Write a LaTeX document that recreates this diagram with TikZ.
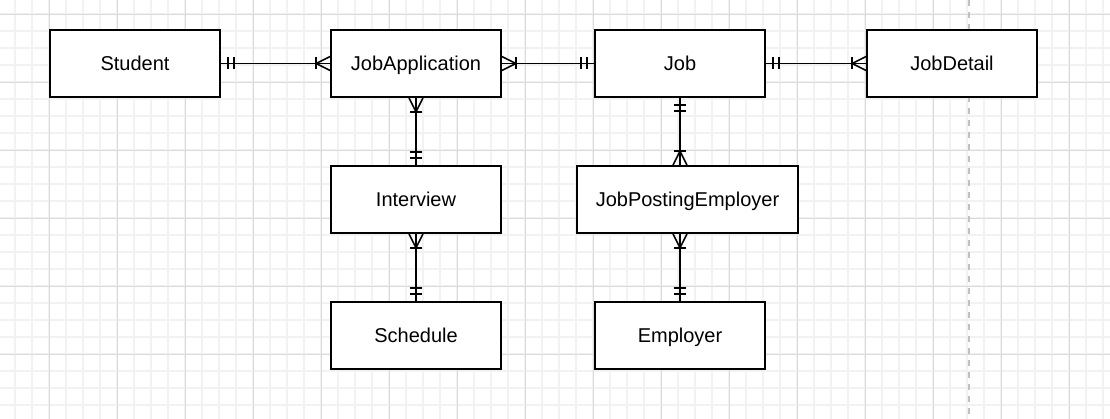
\documentclass[tikz,border=0pt]{standalone}
\usepackage{fontspec}
\setmainfont{Liberation Sans}
\usetikzlibrary{positioning,calc,decorations.markings}

\definecolor{gridminor}{HTML}{F2F2F2}
\definecolor{gridmajor}{HTML}{DADADA}
\definecolor{pagebreak}{HTML}{C0C0C0}

\tikzset{
  entity/.style={draw, rectangle, line width=1.6pt, fill=white,
    minimum width=170pt, minimum height=67pt, inner sep=2pt,
    text height=14.5pt, text depth=0.5pt,
    font=\fontsize{20}{24}\selectfont},
  rel/.style={line width=1.6pt},
  tick/.style={line width=1.6pt},
  one start/.style={postaction={decorate, decoration={markings,
    mark=at position 7pt with {\draw[tick] (0,-6pt) -- (0,6pt);},
    mark=at position 13pt with {\draw[tick] (0,-6pt) -- (0,6pt);}}}},
  one end/.style={postaction={decorate, decoration={markings,
    mark=at position -7pt with {\draw[tick] (0,-6pt) -- (0,6pt);},
    mark=at position -13pt with {\draw[tick] (0,-6pt) -- (0,6pt);}}}},
  many start/.style={postaction={decorate, decoration={markings,
    mark=at position 0.1pt with {\draw[tick] (0,-7pt) -- (14pt,0pt) -- (0,7pt);
      \draw[tick] (14pt,-6pt) -- (14pt,6pt);}}}},
  many end/.style={postaction={decorate, decoration={markings,
    mark=at position -0.1pt with {\draw[tick] (0,-7pt) -- (-14pt,0pt) -- (0,7pt);
      \draw[tick] (-14pt,-6pt) -- (-14pt,6pt);}}}},
}

\begin{document}
\begin{tikzpicture}[x=1pt, y=-1pt, node distance=136pt]
    \useasboundingbox (0,0) rectangle (1110,419);
    \fill[white] (0,0) rectangle (1110,419);

    % grid
    \foreach \gx in {15,32,...,1110}
        \draw[gridminor, line width=1.4pt] (\gx,0) -- (\gx,419);
    \foreach \gy in {14,31,...,419}
        \draw[gridminor, line width=1.4pt] (0,\gy) -- (1110,\gy);
    \foreach \gx in {49,117,...,1110}
        \draw[gridmajor, line width=0.9pt] (\gx,0) -- (\gx,419);
    \foreach \gy in {14,82,...,419}
        \draw[gridmajor, line width=0.9pt] (0,\gy) -- (1110,\gy);
    \draw[pagebreak, line width=1.8pt, dash pattern=on 6pt off 6pt] (969,0) -- (969,419);

    \node (student) [entity] at (135,63.5) {Student};
    \node (jobapp) [entity, right=109.4pt of student] {JobApplication};
    \node (job) [entity, right=92.4pt of jobapp] {Job};
    \node (jobdetail) [entity, right=100.4pt of job] {JobDetail};

    \node (interview) [entity, below of=jobapp] {Interview};
    \node (schedule) [entity, below of=interview] {Schedule};
    \node (jpe) [entity, minimum width=221pt, below of=job, xshift=7.5pt] {JobPostingEmployer};
    \node (employer) [entity, below of=jpe, xshift=-7.5pt] {Employer};

    \draw[rel, one start, many end] (student) -- (jobapp);
    \draw[rel, many start, one end] (jobapp) -- (job);
    \draw[rel, one start, many end] (job) -- (jobdetail);
    \draw[rel, many start, one end] (jobapp) -- (interview);
    \draw[rel, many start, one end] (interview) -- (schedule);
    \draw[rel, one start, many end] (job) -- (job |- jpe.north);
    \draw[rel, many start, one end] (jpe.south -| employer) -- (employer);
\end{tikzpicture}
\end{document}
